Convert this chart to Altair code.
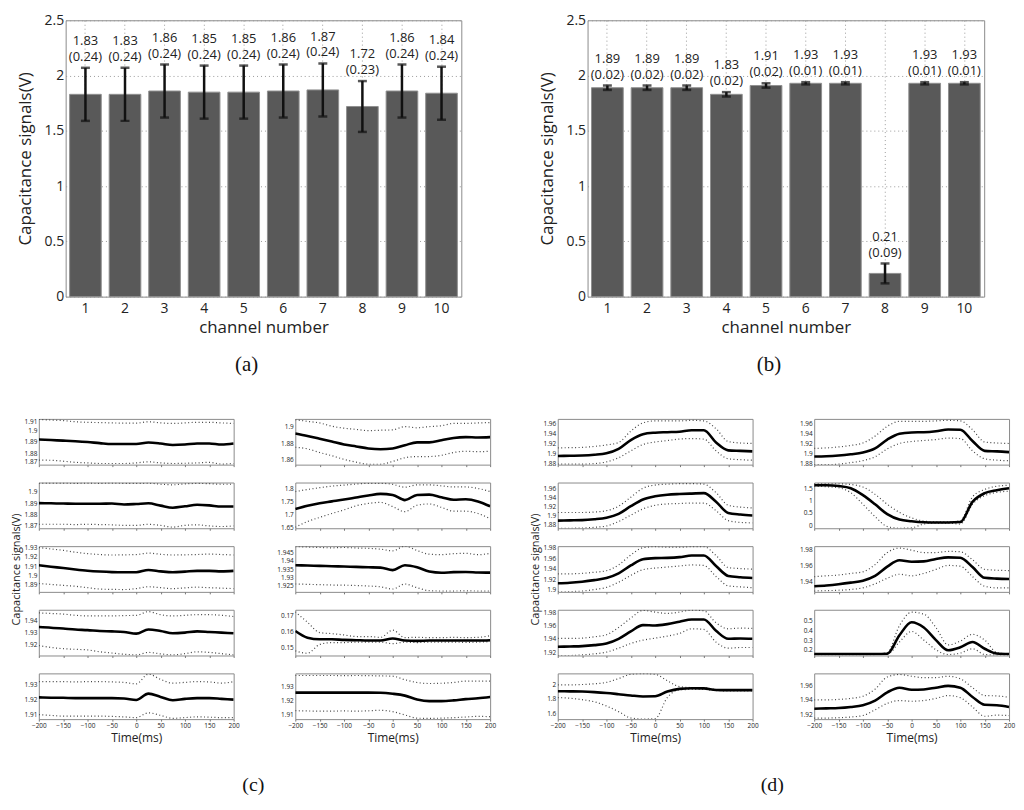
import altair as alt
import pandas as pd

FONT = "Open Sans"
SERIF = "Liberation Serif"

# ---------------- bar charts (a) and (b) ----------------
CHANNELS = ["1", "2", "3", "4", "5", "6", "7", "8", "9", "10"]
BAR_YTICKS = [0, 0.5, 1, 1.5, 2, 2.5]
a_mean = [1.83, 1.83, 1.86, 1.85, 1.85, 1.86, 1.87, 1.72, 1.86, 1.84]
a_sd = [0.24, 0.24, 0.24, 0.24, 0.24, 0.24, 0.24, 0.23, 0.24, 0.24]
b_mean = [1.89, 1.89, 1.89, 1.83, 1.91, 1.93, 1.93, 0.21, 1.93, 1.93]
b_sd = [0.02, 0.02, 0.02, 0.02, 0.02, 0.01, 0.01, 0.09, 0.01, 0.01]

# ---------------- time courses (c) and (d) ----------------
T = [-200, -175, -150, -125, -100, -75, -50, -25, 0, 25, 50, 75, 100, 125, 150, 175, 200]
XTICKS = [-200, -150, -100, -50, 0, 50, 100, 150, 200]

c1_mean = [1.892, 1.8915, 1.891, 1.8905, 1.8898, 1.8888, 1.888, 1.888, 1.888, 1.8893, 1.8885, 1.8872, 1.8876, 1.8885, 1.8885, 1.8876, 1.8885]
c1_up = [1.9095, 1.909, 1.9085, 1.9075, 1.907, 1.9068, 1.9065, 1.9063, 1.9063, 1.9075, 1.9065, 1.906, 1.9065, 1.907, 1.907, 1.9065, 1.906]
c1_lo = [1.874, 1.8738, 1.873, 1.872, 1.8715, 1.871, 1.871, 1.871, 1.8715, 1.8725, 1.8715, 1.871, 1.8712, 1.8715, 1.872, 1.8705, 1.871]
c2_mean = [1.890, 1.8898, 1.8896, 1.8895, 1.8895, 1.8895, 1.8896, 1.8888, 1.8892, 1.8898, 1.8878, 1.886, 1.8872, 1.8885, 1.888, 1.887, 1.887]
c2_up = [1.9075, 1.9075, 1.9075, 1.9073, 1.9075, 1.9073, 1.9075, 1.9073, 1.9072, 1.9074, 1.9065, 1.906, 1.9068, 1.9072, 1.907, 1.9065, 1.9065]
c2_lo = [1.8715, 1.8715, 1.8715, 1.8712, 1.8715, 1.8712, 1.871, 1.8705, 1.8705, 1.8715, 1.8705, 1.869, 1.8705, 1.871, 1.870, 1.8695, 1.870]
c3_mean = [1.911, 1.9095, 1.908, 1.9065, 1.9052, 1.9043, 1.9037, 1.9035, 1.9035, 1.906, 1.9045, 1.9035, 1.9042, 1.905, 1.905, 1.9045, 1.905]
c3_up = [1.930, 1.9285, 1.927, 1.925, 1.9235, 1.9225, 1.922, 1.9222, 1.9225, 1.924, 1.9228, 1.922, 1.9222, 1.9225, 1.923, 1.9225, 1.922]
c3_lo = [1.8915, 1.8905, 1.8895, 1.8885, 1.887, 1.8855, 1.8852, 1.885, 1.886, 1.888, 1.887, 1.886, 1.8868, 1.8875, 1.887, 1.8865, 1.886]
c4_mean = [1.9345, 1.934, 1.9333, 1.9325, 1.932, 1.9313, 1.931, 1.9305, 1.9292, 1.9325, 1.9313, 1.9295, 1.930, 1.931, 1.9305, 1.930, 1.9295]
c4_up = [1.946, 1.9455, 1.945, 1.944, 1.9435, 1.9435, 1.9435, 1.9438, 1.944, 1.947, 1.9445, 1.9435, 1.944, 1.9445, 1.9445, 1.944, 1.943]
c4_lo = [1.9195, 1.918, 1.917, 1.9165, 1.916, 1.9145, 1.9135, 1.9125, 1.912, 1.914, 1.9128, 1.912, 1.913, 1.9145, 1.914, 1.913, 1.912]
c5_mean = [1.9215, 1.9213, 1.9212, 1.921, 1.921, 1.921, 1.921, 1.9208, 1.9198, 1.924, 1.9218, 1.9196, 1.9205, 1.921, 1.921, 1.9205, 1.920]
c5_up = [1.932, 1.932, 1.932, 1.9318, 1.932, 1.932, 1.9318, 1.9315, 1.9305, 1.937, 1.9335, 1.931, 1.9315, 1.932, 1.9318, 1.931, 1.932]
c5_lo = [1.910, 1.9095, 1.909, 1.909, 1.909, 1.909, 1.9088, 1.9085, 1.908, 1.9112, 1.9095, 1.9075, 1.908, 1.9085, 1.9083, 1.908, 1.908]
c6_mean = [1.892, 1.889, 1.8855, 1.882, 1.8785, 1.876, 1.8735, 1.8725, 1.8735, 1.8775, 1.881, 1.881, 1.8835, 1.8865, 1.8875, 1.887, 1.8875]
c6_up = [1.909, 1.907, 1.905, 1.901, 1.8985, 1.897, 1.8955, 1.896, 1.8965, 1.9005, 1.899, 1.9005, 1.9015, 1.9045, 1.9045, 1.905, 1.9055]
c6_lo = [1.875, 1.873, 1.8685, 1.8645, 1.860, 1.8565, 1.854, 1.854, 1.8575, 1.862, 1.8635, 1.8635, 1.865, 1.8685, 1.870, 1.8695, 1.870]
c7_mean = [1.720, 1.733, 1.743, 1.750, 1.757, 1.765, 1.773, 1.779, 1.775, 1.755, 1.775, 1.776, 1.766, 1.756, 1.758, 1.750, 1.731]
c7_up = [1.788, 1.796, 1.803, 1.809, 1.813, 1.817, 1.820, 1.820, 1.816, 1.805, 1.814, 1.814, 1.810, 1.806, 1.806, 1.800, 1.788]
c7_lo = [1.650, 1.672, 1.688, 1.703, 1.717, 1.733, 1.742, 1.746, 1.730, 1.710, 1.735, 1.740, 1.727, 1.712, 1.712, 1.703, 1.683]
c8_mean = [1.9374, 1.9372, 1.937, 1.9368, 1.9366, 1.9364, 1.9362, 1.936, 1.9345, 1.9374, 1.9362, 1.9336, 1.9329, 1.9333, 1.9334, 1.9331, 1.933]
c8_up = [1.9485, 1.9483, 1.948, 1.9478, 1.948, 1.9477, 1.9475, 1.947, 1.946, 1.9488, 1.9462, 1.944, 1.9437, 1.9443, 1.9445, 1.9437, 1.9445]
c8_lo = [1.9262, 1.926, 1.9258, 1.9256, 1.9255, 1.9253, 1.925, 1.9245, 1.9232, 1.9262, 1.924, 1.9222, 1.922, 1.922, 1.9221, 1.922, 1.922]
c9_mean = [0.1605, 0.1563, 0.1553, 0.1553, 0.1549, 0.1547, 0.1545, 0.1545, 0.1558, 0.1545, 0.1543, 0.1545, 0.1545, 0.1545, 0.1545, 0.1545, 0.1547]
c9_up = [0.1725, 0.166, 0.1595, 0.1588, 0.158, 0.157, 0.157, 0.1565, 0.161, 0.1563, 0.1565, 0.1563, 0.1563, 0.1565, 0.1563, 0.1565, 0.1575]
c9_lo = [0.148, 0.1465, 0.152, 0.1532, 0.1532, 0.1535, 0.1535, 0.1535, 0.1525, 0.1535, 0.1532, 0.1535, 0.1535, 0.1535, 0.1533, 0.1535, 0.1538]
c10_mean = [1.9253, 1.9253, 1.9253, 1.9253, 1.9253, 1.9253, 1.9253, 1.9252, 1.9245, 1.9232, 1.9205, 1.9193, 1.9193, 1.9198, 1.9207, 1.9213, 1.9222]
c10_up = [1.9375, 1.9375, 1.9375, 1.9375, 1.9374, 1.9375, 1.9374, 1.9372, 1.937, 1.9345, 1.9325, 1.9318, 1.932, 1.9325, 1.9335, 1.9335, 1.9335]
c10_lo = [1.9125, 1.9123, 1.9122, 1.9122, 1.9123, 1.9122, 1.9124, 1.9128, 1.9118, 1.9095, 1.9072, 1.907, 1.9072, 1.9075, 1.908, 1.9085, 1.9082]

d1_mean = [1.8945, 1.895, 1.8955, 1.897, 1.900, 1.909, 1.927, 1.939, 1.942, 1.943, 1.944, 1.947, 1.947, 1.922, 1.906, 1.905, 1.904]
d1_up = [1.911, 1.9115, 1.912, 1.914, 1.917, 1.922, 1.945, 1.962, 1.966, 1.966, 1.966, 1.967, 1.966, 1.950, 1.924, 1.921, 1.920]
d1_lo = [1.878, 1.878, 1.878, 1.879, 1.8825, 1.891, 1.905, 1.918, 1.923, 1.926, 1.929, 1.930, 1.929, 1.905, 1.889, 1.887, 1.886]
d2_mean = [1.888, 1.8885, 1.889, 1.891, 1.8945, 1.903, 1.920, 1.935, 1.942, 1.9455, 1.947, 1.948, 1.949, 1.930, 1.905, 1.9015, 1.8995]
d2_up = [1.906, 1.906, 1.906, 1.907, 1.910, 1.920, 1.940, 1.960, 1.967, 1.969, 1.970, 1.970, 1.969, 1.950, 1.922, 1.918, 1.916]
d2_lo = [1.871, 1.871, 1.8715, 1.873, 1.876, 1.886, 1.900, 1.914, 1.922, 1.925, 1.926, 1.927, 1.927, 1.910, 1.888, 1.884, 1.883]
d3_mean = [1.912, 1.913, 1.915, 1.918, 1.922, 1.931, 1.946, 1.958, 1.960, 1.9605, 1.962, 1.965, 1.965, 1.945, 1.926, 1.9235, 1.922]
d3_up = [1.930, 1.930, 1.931, 1.933, 1.936, 1.947, 1.966, 1.980, 1.982, 1.981, 1.981, 1.982, 1.982, 1.965, 1.942, 1.940, 1.939]
d3_lo = [1.8955, 1.896, 1.897, 1.900, 1.904, 1.914, 1.927, 1.938, 1.941, 1.943, 1.945, 1.947, 1.946, 1.925, 1.907, 1.905, 1.9035]
d4_mean = [1.928, 1.9285, 1.929, 1.9305, 1.933, 1.940, 1.951, 1.9605, 1.960, 1.962, 1.9655, 1.969, 1.969, 1.952, 1.940, 1.9405, 1.940]
d4_up = [1.9405, 1.9405, 1.941, 1.943, 1.946, 1.957, 1.971, 1.9825, 1.980, 1.978, 1.980, 1.983, 1.982, 1.964, 1.955, 1.956, 1.9555]
d4_lo = [1.915, 1.915, 1.916, 1.9175, 1.920, 1.926, 1.933, 1.938, 1.941, 1.944, 1.948, 1.955, 1.954, 1.935, 1.926, 1.927, 1.927]
d5_mean = [1.91, 1.908, 1.905, 1.897, 1.885, 1.868, 1.850, 1.836, 1.838, 1.905, 1.943, 1.952, 1.950, 1.928, 1.925, 1.925, 1.925]
d5_up = [2.0, 2.0, 2.005, 2.015, 2.035, 2.09, 2.15, 2.16, 2.15, 2.06, 1.975, 1.962, 1.96, 1.935, 1.93, 1.93, 1.93]
d5_lo = [1.82, 1.81, 1.79, 1.76, 1.70, 1.62, 1.53, 1.515, 1.52, 1.82, 1.93, 1.935, 1.935, 1.92, 1.915, 1.915, 1.915]
d6_mean = [1.8935, 1.894, 1.8955, 1.898, 1.9015, 1.910, 1.928, 1.940, 1.9425, 1.943, 1.945, 1.9485, 1.948, 1.925, 1.905, 1.904, 1.9025]
d6_up = [1.910, 1.911, 1.913, 1.916, 1.921, 1.935, 1.955, 1.965, 1.965, 1.965, 1.966, 1.967, 1.966, 1.948, 1.923, 1.921, 1.920]
d6_lo = [1.877, 1.877, 1.878, 1.881, 1.885, 1.893, 1.909, 1.920, 1.924, 1.926, 1.928, 1.931, 1.930, 1.905, 1.889, 1.886, 1.885]
d7_mean = [1.62, 1.62, 1.59, 1.50, 1.22, 0.85, 0.45, 0.23, 0.16, 0.12, 0.11, 0.11, 0.13, 0.95, 1.30, 1.42, 1.50]
d7_up = [1.68, 1.68, 1.68, 1.65, 1.55, 1.25, 0.85, 0.52, 0.30, 0.17, 0.14, 0.14, 0.18, 1.15, 1.45, 1.58, 1.62]
d7_lo = [1.58, 1.56, 1.52, 1.32, 0.85, 0.35, -0.05, -0.12, -0.10, 0.05, 0.09, 0.09, 0.05, 0.85, 1.20, 1.33, 1.38]
d8_mean = [1.934, 1.935, 1.9365, 1.9385, 1.941, 1.947, 1.9585, 1.9665, 1.9645, 1.965, 1.968, 1.970, 1.9695, 1.958, 1.9445, 1.9435, 1.943]
d8_up = [1.946, 1.947, 1.948, 1.950, 1.952, 1.961, 1.976, 1.9815, 1.979, 1.976, 1.976, 1.9775, 1.977, 1.967, 1.955, 1.954, 1.9535]
d8_lo = [1.928, 1.9285, 1.929, 1.930, 1.932, 1.937, 1.944, 1.949, 1.947, 1.950, 1.955, 1.960, 1.959, 1.946, 1.934, 1.932, 1.932]
d9_mean = [0.155, 0.155, 0.155, 0.155, 0.155, 0.155, 0.158, 0.35, 0.485, 0.43, 0.30, 0.195, 0.225, 0.28, 0.21, 0.16, 0.155]
d9_up = [0.155, 0.155, 0.155, 0.155, 0.155, 0.156, 0.17, 0.45, 0.59, 0.57, 0.43, 0.25, 0.29, 0.36, 0.30, 0.17, 0.155]
d9_lo = [0.15, 0.15, 0.15, 0.15, 0.15, 0.15, 0.152, 0.28, 0.39, 0.30, 0.20, 0.15, 0.165, 0.21, 0.15, 0.145, 0.145]
d10_mean = [1.9275, 1.928, 1.9285, 1.930, 1.9325, 1.939, 1.9505, 1.957, 1.954, 1.9545, 1.957, 1.9595, 1.957, 1.944, 1.933, 1.9325, 1.930]
d10_up = [1.940, 1.940, 1.9405, 1.942, 1.945, 1.955, 1.972, 1.9755, 1.973, 1.971, 1.971, 1.973, 1.9695, 1.957, 1.946, 1.9455, 1.9435]
d10_lo = [1.9145, 1.9145, 1.915, 1.916, 1.918, 1.926, 1.935, 1.939, 1.938, 1.939, 1.942, 1.946, 1.943, 1.930, 1.917, 1.9185, 1.918]

# y limits and y tick labels of each small panel
YLIM = {
    "c1": [1.87, 1.91], "c2": [1.868, 1.908], "c3": [1.8825, 1.9315], "c4": [1.9115, 1.9485], "c5": [1.907, 1.9375],
    "c6": [1.8535, 1.910], "c7": [1.646, 1.823], "c8": [1.9215, 1.9488], "c9": [0.1451, 0.1738], "c10": [1.9065, 1.939],
    "d1": [1.877, 1.970], "d2": [1.871, 1.9726], "d3": [1.8955, 1.983], "d4": [1.915, 1.9835], "d5": [1.514, 2.163],
    "d6": [1.877, 1.970], "d7": [-0.12, 1.73], "d8": [1.927, 1.984], "d9": [0.14, 0.615], "d10": [1.913, 1.977],
}
YTICKS = {
    "c1": [1.87, 1.88, 1.89, 1.9, 1.91], "c2": [1.87, 1.88, 1.89, 1.9], "c3": [1.89, 1.9, 1.91, 1.92, 1.93],
    "c4": [1.92, 1.93, 1.94], "c5": [1.91, 1.92, 1.93], "c6": [1.86, 1.88, 1.9], "c7": [1.65, 1.7, 1.75, 1.8],
    "c8": [1.925, 1.93, 1.935, 1.94, 1.945], "c9": [0.15, 0.16, 0.17], "c10": [1.91, 1.92, 1.93],
    "d1": [1.88, 1.9, 1.92, 1.94, 1.96], "d2": [1.88, 1.9, 1.92, 1.94, 1.96], "d3": [1.9, 1.92, 1.94, 1.96, 1.98],
    "d4": [1.92, 1.94, 1.96, 1.98], "d5": [1.6, 1.8, 2], "d6": [1.88, 1.9, 1.92, 1.94, 1.96],
    "d7": [0, 0.5, 1, 1.5], "d8": [1.94, 1.96, 1.98], "d9": [0.2, 0.3, 0.4, 0.5], "d10": [1.92, 1.94, 1.96],
}
SERIES = {
    "c1": (c1_mean, c1_up, c1_lo), "c2": (c2_mean, c2_up, c2_lo), "c3": (c3_mean, c3_up, c3_lo),
    "c4": (c4_mean, c4_up, c4_lo), "c5": (c5_mean, c5_up, c5_lo), "c6": (c6_mean, c6_up, c6_lo),
    "c7": (c7_mean, c7_up, c7_lo), "c8": (c8_mean, c8_up, c8_lo), "c9": (c9_mean, c9_up, c9_lo),
    "c10": (c10_mean, c10_up, c10_lo),
    "d1": (d1_mean, d1_up, d1_lo), "d2": (d2_mean, d2_up, d2_lo), "d3": (d3_mean, d3_up, d3_lo),
    "d4": (d4_mean, d4_up, d4_lo), "d5": (d5_mean, d5_up, d5_lo), "d6": (d6_mean, d6_up, d6_lo),
    "d7": (d7_mean, d7_up, d7_lo), "d8": (d8_mean, d8_up, d8_lo), "d9": (d9_mean, d9_up, d9_lo),
    "d10": (d10_mean, d10_up, d10_lo),
}
COLUMNS = [
    ["c1", "c2", "c3", "c4", "c5"],
    ["c6", "c7", "c8", "c9", "c10"],
    ["d1", "d2", "d3", "d4", "d5"],
    ["d6", "d7", "d8", "d9", "d10"],
]

YTITLE = "Capacitance signals(V)"
PW, PH = 196, 46
BAR_H = 278
BAR_YSCALE = alt.Scale(domain=[0, 2.5], nice=False)


def bar_title_strip(means):
    # a 1-px wide view that only carries the rotated y-axis title of a bar chart
    df = pd.DataFrame({"mean": means})
    return alt.Chart(df).mark_point(opacity=0).encode(
        y=alt.Y("mean:Q", scale=BAR_YSCALE,
                axis=alt.Axis(title=YTITLE, labels=False, ticks=False, domain=False,
                              grid=False, minExtent=0, maxExtent=0, titlePadding=4,
                              titleFontSize=17))
    ).properties(width=1, height=BAR_H, view=alt.ViewBackground(stroke="transparent"))


def bar_chart(means, sds, caption, width):
    df = pd.DataFrame({"channel": CHANNELS, "mean": means, "sd": sds})
    df["lo"] = df["mean"] - df["sd"]
    df["hi"] = df["mean"] + df["sd"]
    df["m_txt"] = [f"{m:.2f}" for m in means]
    df["s_txt"] = [f"({s:.2f})" for s in sds]
    x = alt.X("channel:O", sort=CHANNELS,
              scale=alt.Scale(paddingInner=0.2, paddingOuter=0.1),
              axis=alt.Axis(title="channel number", labelAngle=0, labelFontSize=14,
                            titleFontSize=17, ticks=False, domain=False, grid=True,
                            gridDash=[1, 3], gridColor="#9a9a9a", labelPadding=5,
                            titlePadding=4))
    yax = alt.Axis(title=None, values=BAR_YTICKS, format="~g", labelFontSize=14,
                   ticks=False, domain=False, grid=True,
                   gridDash=[1, 3], gridColor="#9a9a9a", labelPadding=2,
                   minExtent=22, maxExtent=22)
    base = alt.Chart(df).encode(x=x)
    bars = base.mark_bar(color="#595959", stroke="#8f8f8f", strokeWidth=1).encode(
        y=alt.Y("mean:Q", scale=BAR_YSCALE, axis=yax))
    rule = base.mark_rule(color="#111", strokeWidth=2.5).encode(
        y=alt.Y("lo:Q", axis=yax), y2="hi:Q")
    cap_lo = base.mark_tick(color="#111", thickness=2.5, size=9).encode(y=alt.Y("lo:Q", axis=yax))
    cap_hi = base.mark_tick(color="#111", thickness=2.5, size=9).encode(y=alt.Y("hi:Q", axis=yax))
    sd_text = base.mark_text(baseline="bottom", dy=-4, fontSize=13, font=FONT, color="#222").encode(
        y=alt.Y("hi:Q", axis=yax), text="s_txt:N")
    m_text = base.mark_text(baseline="bottom", dy=-20, fontSize=13, font=FONT, color="#222").encode(
        y=alt.Y("hi:Q", axis=yax), text="m_txt:N")
    return alt.layer(bars, rule, cap_lo, cap_hi, sd_text, m_text).properties(
        width=width, height=BAR_H,
        title=alt.TitleParams(caption, orient="bottom", font=SERIF, fontSize=21,
                              fontWeight="normal", offset=19, frame="group", dx=-17,
                              color="#111"))


def small_panel(key, row, with_title):
    mean, up, lo = SERIES[key]
    df = pd.DataFrame({"t": T, "m": mean, "u": up, "l": lo})
    bottom = row == 4
    xax = alt.Axis(values=XTICKS, labels=bottom, format="d", labelFontSize=6.5,
                   labelFlush=False, labelOverlap=False,
                   tickSize=2, tickColor="#777", domain=False, grid=False, labelPadding=1,
                   title="Time(ms)" if bottom else None, titleFontSize=12, titlePadding=4)
    yax = alt.Axis(values=YTICKS[key], format="~g", labelFontSize=6.5, ticks=False,
                   domain=False, grid=False, labelPadding=2, labelFlush=True,
                   minExtent=17, maxExtent=17,
                   title=YTITLE if with_title else None, titleFontSize=11, titlePadding=0)
    ysc = alt.Scale(domain=YLIM[key], nice=False, zero=False)
    x = alt.X("t:Q", scale=alt.Scale(domain=[-200, 200], nice=False), axis=xax)
    base = alt.Chart(df).encode(x=x)
    up_l = base.mark_line(color="#444", strokeWidth=1.2, strokeDash=[1, 2.5],
                          interpolate="monotone", clip=True).encode(
        y=alt.Y("u:Q", scale=ysc, axis=yax))
    lo_l = base.mark_line(color="#444", strokeWidth=1.2, strokeDash=[1, 2.5],
                          interpolate="monotone", clip=True).encode(
        y=alt.Y("l:Q", scale=ysc, axis=yax))
    mean_l = base.mark_line(color="#000", strokeWidth=2.6, interpolate="monotone",
                            clip=True).encode(y=alt.Y("m:Q", scale=ysc, axis=yax))
    return alt.layer(up_l, lo_l, mean_l).properties(width=PW, height=PH)


def column(keys, titled):
    return alt.vconcat(*[small_panel(k, r, titled and r == 2) for r, k in enumerate(keys)],
                       spacing=18, bounds="flush")


def caption(text):
    return alt.TitleParams(text, orient="bottom", anchor="middle", font=SERIF, fontSize=20,
                           fontWeight="normal", offset=31, color="#111")


top = alt.hconcat(
    alt.hconcat(bar_title_strip(a_mean), bar_chart(a_mean, a_sd, "(a)", 398), spacing=0),
    alt.hconcat(bar_title_strip(b_mean), bar_chart(b_mean, b_sd, "(b)", 399), spacing=0),
    spacing=76,
)

group_c = alt.hconcat(column(COLUMNS[0], True), column(COLUMNS[1], False),
                      spacing=35, title=caption("(c)"))
group_d = alt.hconcat(column(COLUMNS[2], True), column(COLUMNS[3], False),
                      spacing=37, title=caption("(d)"))
bottom = alt.hconcat(group_c, group_d, spacing=32)

chart = alt.vconcat(top, bottom, spacing=42).properties(
    padding={"left": 2, "top": 2, "right": 0, "bottom": 0}
).configure(font=FONT).configure_axis(
    labelFont=FONT, titleFont=FONT, titleFontWeight="normal", labelColor="#222",
    titleColor="#222"
).configure_view(stroke="#8a8a8a", strokeWidth=1)

chart.save("out.html", embed_options={"renderer": "svg", "actions": False})
